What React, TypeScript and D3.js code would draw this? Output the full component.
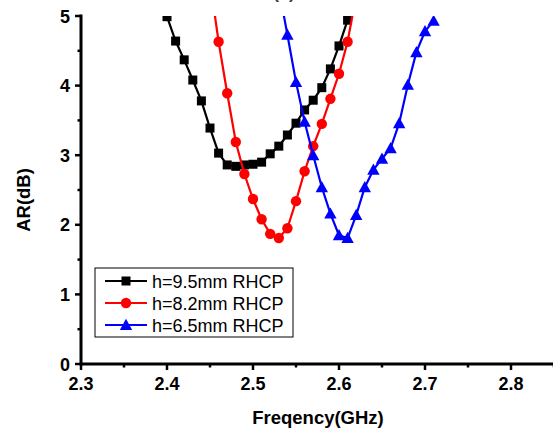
import React from "react";
import * as d3 from "d3";

const freqBlack = [2.39, 2.40, 2.41, 2.42, 2.43, 2.44, 2.45, 2.46, 2.47, 2.48, 2.49, 2.50, 2.51, 2.52, 2.53, 2.54, 2.55, 2.56, 2.57, 2.58, 2.59, 2.60, 2.61, 2.62];
const arBlack = [5.4, 4.99, 4.64, 4.37, 4.08, 3.78, 3.39, 3.03, 2.86, 2.84, 2.86, 2.87, 2.90, 3.02, 3.13, 3.29, 3.46, 3.65, 3.79, 3.97, 4.24, 4.57, 4.94, 5.3];

const freqRed = [2.45, 2.46, 2.47, 2.48, 2.49, 2.50, 2.51, 2.52, 2.53, 2.54, 2.55, 2.56, 2.57, 2.58, 2.59, 2.60, 2.61, 2.62];
const arRed = [5.5, 4.63, 3.89, 3.19, 2.73, 2.37, 2.08, 1.87, 1.81, 1.95, 2.34, 2.77, 3.13, 3.45, 3.81, 4.17, 4.63, 5.3];

const freqBlue = [2.53, 2.54, 2.55, 2.56, 2.57, 2.58, 2.59, 2.60, 2.61, 2.62, 2.63, 2.64, 2.65, 2.66, 2.67, 2.68, 2.69, 2.70, 2.71];
const arBlue = [5.4, 4.73, 4.05, 3.48, 3.00, 2.54, 2.16, 1.85, 1.81, 2.14, 2.54, 2.79, 2.95, 3.10, 3.46, 4.01, 4.48, 4.78, 4.93];

const seriesNames = ["h=9.5mm RHCP", "h=8.2mm RHCP", "h=6.5mm RHCP"];
const xTicks = [2.3, 2.4, 2.5, 2.6, 2.7, 2.8];
const xMinorTicks = [2.35, 2.45, 2.55, 2.65, 2.75, 2.85];
const yTicks = [0, 1, 2, 3, 4, 5];
const yMinorTicks = [0.5, 1.5, 2.5, 3.5, 4.5];

const FONT = "'Liberation Sans', Arial, sans-serif";

export default function App() {
  const W = 553, H = 428;
  const x = d3.scaleLinear().domain([2.3, 2.9]).range([81, 597]);
  const y = d3.scaleLinear().domain([0, 5]).range([364, 16]);

  const series = [
    { name: seriesNames[0], xs: freqBlack, ys: arBlack, color: "#000000", shape: "square" },
    { name: seriesNames[1], xs: freqRed, ys: arRed, color: "#ff0000", shape: "circle" },
    { name: seriesNames[2], xs: freqBlue, ys: arBlue, color: "#0000ff", shape: "triangle" },
  ];

  const line = d3.line<[number, number]>().x((d) => x(d[0])).y((d) => y(d[1]));

  const marker = (shape: string, cx: number, cy: number, color: string, key: string | number) => {
    if (shape === "square") {
      return <rect key={key} x={cx - 4.5} y={cy - 4.5} width={9} height={9} fill={color} />;
    }
    if (shape === "circle") {
      return <circle key={key} cx={cx} cy={cy} r={5.2} fill={color} />;
    }
    const s = 6.2;
    return (
      <path
        key={key}
        d={`M${cx},${cy - s}L${cx + s},${cy + s * 0.8}L${cx - s},${cy + s * 0.8}Z`}
        fill={color}
      />
    );
  };

  const legendX = 95, legendY = 268, legendW = 198, legendH = 69;
  const rowYs = [281, 303, 325];

  return (
    <svg
      width={W}
      height={H}
      style={{ position: "absolute", left: 0, top: 0, background: "#fff" }}
      fontFamily={FONT}
    >
      <rect x={0} y={0} width={W} height={H} fill="#fff" />
      <defs>
        <clipPath id="plotClip">
          <rect x={81} y={16} width={520} height={348} />
        </clipPath>
      </defs>

      <text x={284} y={-2} textAnchor="middle" fontSize={18} fontWeight="bold" fill="#444">(a)</text>

      <g clipPath="url(#plotClip)">
        {series.map((s, si) => {
          const pts: [number, number][] = s.xs.map((f, i) => [f, s.ys[i]]);
          return (
            <g key={si}>
              <path d={line(pts) || ""} fill="none" stroke={s.color} strokeWidth={2.2} />
              {pts.map((p, i) => marker(s.shape, x(p[0]), y(p[1]), s.color, i))}
            </g>
          );
        })}
      </g>

      {/* axes */}
      <line x1={81} y1={364} x2={W} y2={364} stroke="#000" strokeWidth={3} />
      <line x1={81} y1={14.5} x2={81} y2={365.5} stroke="#000" strokeWidth={3} />
      {xTicks.map((t) => (
        <g key={t}>
          <line x1={x(t)} y1={364} x2={x(t)} y2={370} stroke="#000" strokeWidth={2.5} />
          <text x={x(t)} y={390} textAnchor="middle" fontSize={18} fontWeight="bold">{t.toFixed(1)}</text>
        </g>
      ))}
      {xMinorTicks.map((t) => (
        <line key={t} x1={x(t)} y1={364} x2={x(t)} y2={367.5} stroke="#000" strokeWidth={2.5} />
      ))}
      {yTicks.map((t) => (
        <g key={t}>
          <line x1={75} y1={y(t)} x2={81} y2={y(t)} stroke="#000" strokeWidth={2.5} />
          <text x={70} y={y(t) + 6.5} textAnchor="end" fontSize={18} fontWeight="bold">{t}</text>
        </g>
      ))}
      {yMinorTicks.map((t) => (
        <line key={t} x1={77.5} y1={y(t)} x2={81} y2={y(t)} stroke="#000" strokeWidth={2.5} />
      ))}

      <text x={318} y={424} textAnchor="middle" fontSize={18.5} fontWeight="bold">Freqency(GHz)</text>
      <text
        transform={`translate(30,200) rotate(-90)`}
        textAnchor="middle"
        fontSize={18.5}
        fontWeight="bold"
      >
        AR(dB)
      </text>

      {/* legend */}
      <rect x={legendX} y={legendY} width={legendW} height={legendH} fill="#fff" stroke="#000" strokeWidth={1} />
      {series.map((s, i) => (
        <g key={i}>
          <line x1={105} y1={rowYs[i]} x2={147} y2={rowYs[i]} stroke={s.color} strokeWidth={2.2} />
          {marker(s.shape, 126, rowYs[i], s.color, "m" + i)}
          <text x={152} y={rowYs[i] + 6.5} fontSize={18}>{s.name}</text>
        </g>
      ))}
    </svg>
  );
}
